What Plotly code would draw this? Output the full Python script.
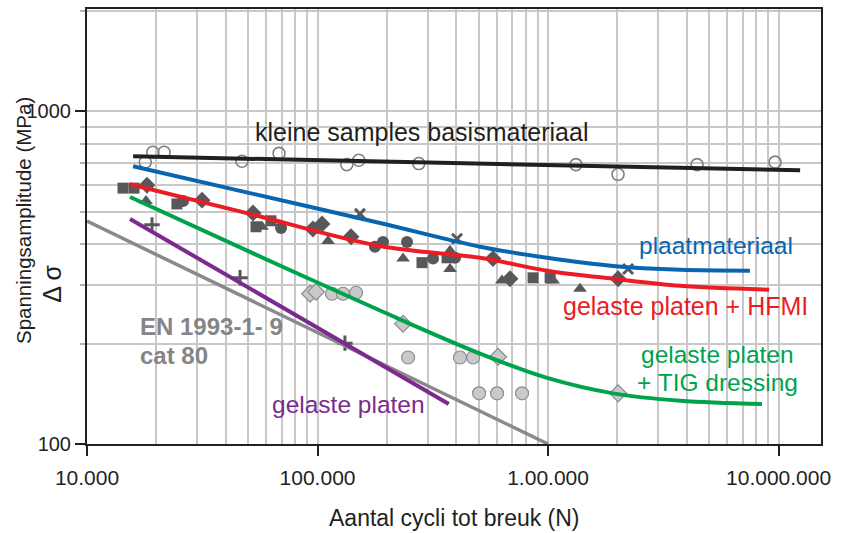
import plotly.graph_objects as go

# ---------------- data (N cycles, stress range MPa) ----------------
# kleine samples basismateriaal (open circles)
base_N = [17900, 19300, 21600, 47000, 68100, 134000, 151000, 275000, 1321000, 2012000, 4430000, 9660000]
base_S = [704, 754, 754, 708, 748, 692, 713, 697, 692, 647, 692, 704]
base_fit_N = [15850, 12400000]
base_fit_S = [733, 665]

# plaatmateriaal (x markers + blue curve)
plate_N = [152800, 402800, 2224000]
plate_S = [492, 414, 336]
plate_fit_N = [15850, 50900, 186600, 507000, 991000, 1914000, 3740000, 7510000]
plate_fit_S = [684, 568, 462, 392, 363, 343, 334, 332]

# gelaste platen + HFMI (dark filled markers + red curve)
hfmi_sq_N = [14330, 16000, 24550, 54100, 62830, 283900, 364700, 860900, 1021000]
hfmi_sq_S = [588, 588, 527, 450, 469, 351, 363, 316, 316]
hfmi_tri_N = [18030, 25820, 57440, 111100, 235000, 375700, 375700, 631000, 1052000, 1376000]
hfmi_tri_S = [538, 538, 450, 408, 361, 381, 336, 310, 310, 293]
hfmi_dia_N = [18210, 31550, 52500, 95500, 104600, 139700, 576800, 683900, 2013000]
hfmi_dia_S = [600, 541, 495, 443, 459, 420, 361, 314, 314]
hfmi_cir_N = [26100, 69470, 177500, 192300, 244400, 317000, 395000]
hfmi_cir_S = [538, 446, 392, 405, 405, 361, 363]
hfmi_fit_N = [15370, 50900, 186600, 507000, 991000, 1914000, 3740000, 9100000]
hfmi_fit_S = [604, 492, 394, 363, 332, 314, 299, 291]

# gelaste platen + TIG dressing (light grey markers + green curve)
tig_dia_N = [92800, 98500, 235000, 606700, 2013000]
tig_dia_S = [283, 287, 230, 183, 142]
tig_cir_N = [115600, 129000, 146900, 247000, 415000, 473000, 502300, 601000, 771000]
tig_cir_S = [283, 283, 285, 182, 182, 182, 142, 142, 142]
tig_fit_N = [15370, 50900, 186600, 507000, 991000, 1914000, 3740000, 8470000]
tig_fit_S = [553, 378, 252, 187, 158, 142, 135, 132]

# gelaste platen (plus markers + purple line)
weld_N = [19140, 46130, 131500]
weld_S = [456, 316, 201]
weld_fit_N = [15370, 371000]
weld_fit_S = [475, 132]

# EN 1993-1-9 cat 80
en_N = [10000, 1000000]
en_S = [468, 100]

x_tick_vals = [1e4, 1e5, 1e6, 1e7]
x_tick_text = ["10.000", "100.000", "1.00.000", "10.000.000"]
y_tick_vals = [100, 1000]
y_tick_text = ["100", "1000"]
x_minor = [m * 10 ** e for e in range(4, 8) for m in range(2, 10)]
y_minor = [m * 10 ** e for e in range(2, 4) for m in range(2, 10)]

# ---------------- styles ----------------
DARK = "#58585a"
LIGHT = "#c9c9cb"
LIGHT_EDGE = "#8c8c8e"
FONT = "Liberation Sans, Arial, Helvetica, sans-serif"

fig = go.Figure()

def markers(N, S, symbol, color, size, line_color=None, line_width=0):
    fig.add_trace(go.Scatter(
        x=N, y=S, mode="markers", showlegend=False, hoverinfo="skip",
        marker=dict(symbol=symbol, color=color, size=size,
                    line=dict(color=line_color or color, width=line_width)),
    ))

markers(base_N, base_S, "circle-open", "#808082", 12, "#808082", 1.6)
markers(tig_dia_N, tig_dia_S, "diamond", LIGHT, 13, LIGHT_EDGE, 1.2)
markers(tig_cir_N, tig_cir_S, "circle", LIGHT, 13, LIGHT_EDGE, 1.2)
markers(hfmi_sq_N, hfmi_sq_S, "square", DARK, 11)
markers(hfmi_tri_N, hfmi_tri_S, "triangle-up", DARK, 12)
markers(hfmi_dia_N, hfmi_dia_S, "diamond", DARK, 13)
markers(hfmi_cir_N, hfmi_cir_S, "circle", DARK, 12)
markers(plate_N, plate_S, "x-thin", DARK, 10, DARK, 3)
markers(weld_N, weld_S, "cross-thin", DARK, 11, DARK, 3)

def line(N, S, color, width, shape="linear"):
    fig.add_trace(go.Scatter(
        x=N, y=S, mode="lines", showlegend=False, hoverinfo="skip",
        line=dict(color=color, width=width, shape=shape, smoothing=1.0),
    ))

line(en_N, en_S, "#8a8a8c", 3.5)
line(weld_fit_N, weld_fit_S, "#7b2a8f", 4)
line(tig_fit_N, tig_fit_S, "#00a34d", 4, "spline")
line(hfmi_fit_N, hfmi_fit_S, "#ec1c24", 4, "spline")
line(plate_fit_N, plate_fit_S, "#0865b0", 4, "spline")
line(base_fit_N, base_fit_S, "#231f20", 4)

GRID = "#c8c8c8"
fig.update_xaxes(
    type="log", range=[4, 7.184],
    tickmode="array", tickvals=x_tick_vals, ticktext=x_tick_text,
    ticks="outside", ticklen=10, tickcolor="#231f20", tickwidth=1.5,
    showgrid=True, gridcolor=GRID, gridwidth=1.6,
    minor=dict(tickmode="array", tickvals=x_minor, showgrid=True,
               gridcolor=GRID, gridwidth=1.6, ticks=""),
    showline=True, linecolor="#231f20", linewidth=2, mirror=True,
    tickfont=dict(family=FONT, size=21, color="#231f20"),
    ticklabelstandoff=4,
    zeroline=False,
)
fig.update_yaxes(
    type="log", range=[2, 3.308],
    tickmode="array", tickvals=y_tick_vals, ticktext=y_tick_text,
    ticks="outside", ticklen=10, tickcolor="#231f20", tickwidth=1.5,
    showgrid=True, gridcolor=GRID, gridwidth=1.6,
    minor=dict(tickmode="array", tickvals=y_minor, showgrid=True,
               gridcolor=GRID, gridwidth=1.6, ticks="outside", ticklen=5,
               tickcolor="#b5b5b5"),
    showline=True, linecolor="#231f20", linewidth=2, mirror=True,
    tickfont=dict(family=FONT, size=20, color="#231f20"),
    zeroline=False,
)

def label(text, x, y, color, size=23, bold=False, xanchor="center", angle=0):
    fig.add_annotation(
        text=f"<b>{text}</b>" if bold else text,
        x=x, y=y, xref="paper", yref="paper",
        xanchor=xanchor, yanchor="middle", showarrow=False,
        textangle=angle, align="left",
        font=dict(family=FONT, size=size, color=color),
    )

# convert pixel positions of labels into paper fractions
L, R, T, B = 87, 821, 7, 444
def px(x):
    return (x - L) / (R - L)
def py(y):
    return (B - y) / (B - T)

label("kleine samples basismateriaal", px(421), py(131), "#231f20", 25)
label("plaatmateriaal", px(716), py(245), "#0865b0", 24.5)
label("gelaste platen + HFMI", px(685), py(305), "#ec1c24", 25)
label("gelaste platen", px(717), py(354), "#00a34d", 24.5)
label("+ TIG dressing", px(717), py(382), "#00a34d", 24.5)
label("gelaste platen", px(348), py(404), "#7b2a8f", 24.5)
label("EN 1993-1- 9", px(138), py(326), "#858587", 24, bold=True, xanchor="left")
label("cat 80", px(138), py(355), "#858587", 24, bold=True, xanchor="left")

label("Aantal cycli tot breuk (N)", px(454), py(518), "#231f20", 23)
label("Spanningsamplitude (MPa)", px(23), py(220), "#231f20", 20.5, angle=-90)
label("Δ σ", px(52), py(283), "#231f20", 25, angle=-90)

fig.update_layout(
    width=842, height=533,
    margin=dict(l=L, r=842 - R, t=T, b=533 - B),
    paper_bgcolor="white", plot_bgcolor="white",
    showlegend=False, hovermode=False,
    font=dict(family=FONT),
)

fig.write_html("out.html", config={"displayModeBar": False},
               post_script="document.body.style.margin='0px';")
